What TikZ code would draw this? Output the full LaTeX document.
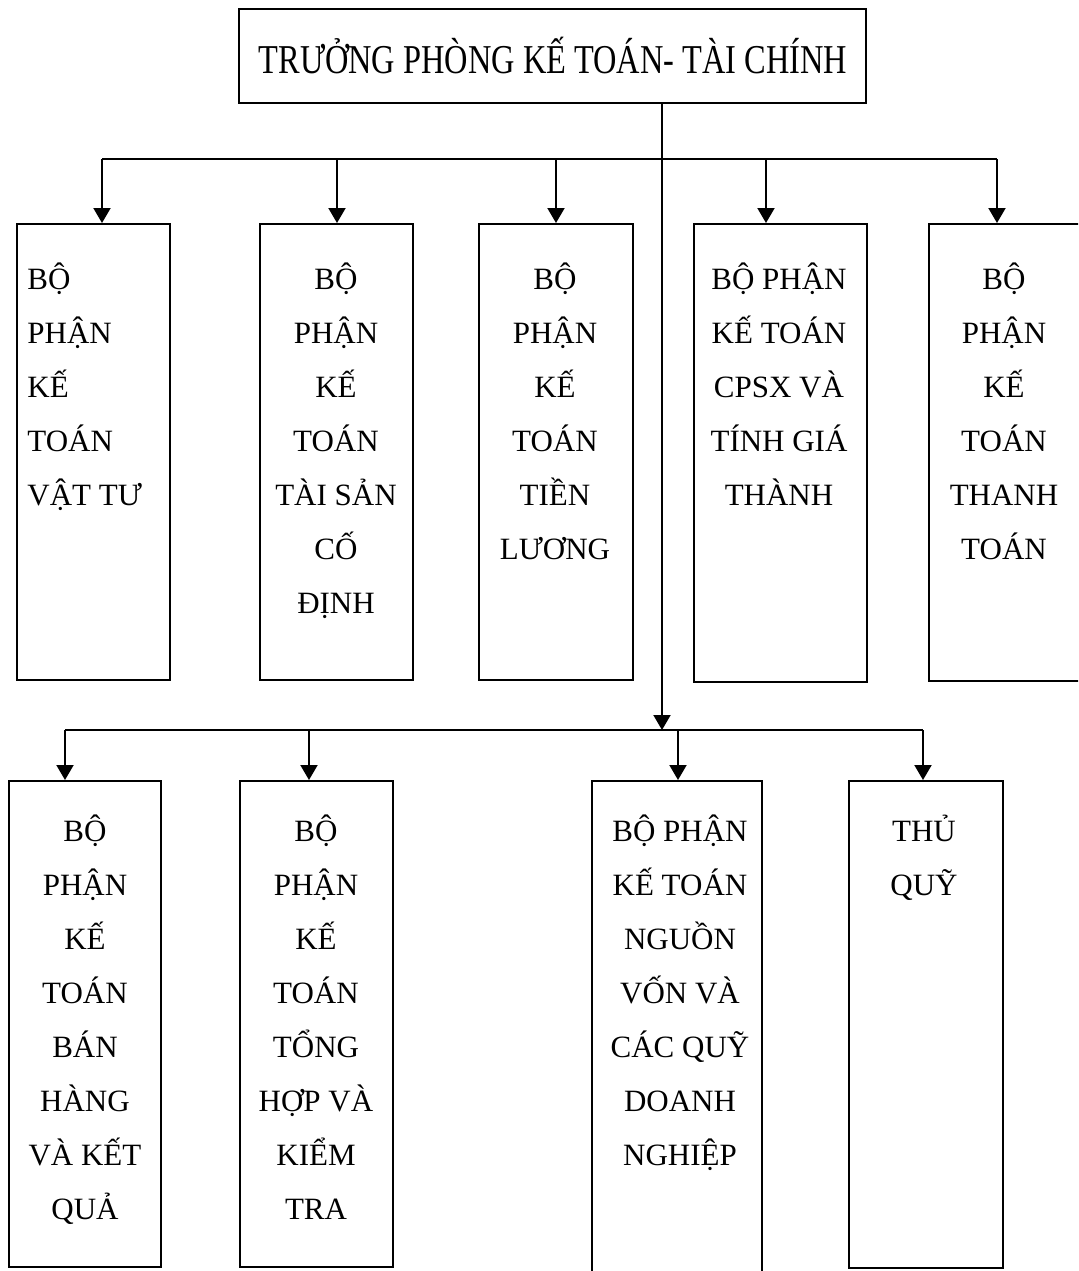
\documentclass[tikz,border=0pt]{standalone}
\usepackage{fontspec}
\usepackage{graphicx}
\setmainfont{Liberation Serif}
\usetikzlibrary{arrows.meta}
\newcommand\firststrut{\rule{0pt}{16pt}}
\tikzset{
  box/.style={draw, line width=0.9pt, inner sep=0pt, anchor=north west},
  txt/.style={inner sep=0pt, font=\fontsize{15.5}{27}\selectfont, align=center, anchor=north},
  bus/.style={line width=0.85pt},
  arr/.style={line width=1pt, -{Triangle[length=7.5pt,width=8.5pt]}}
}
\begin{document}
\begin{tikzpicture}[x=0.5pt,y=-0.5pt]
\useasboundingbox (0,0) rectangle (1078,1271);
\clip (0,0) rectangle (1078,1271);
% top box
\node[box, minimum width=313.5pt, minimum height=47pt] (T) at (238,8) {};
\node[inner sep=0pt, anchor=base] (Tt) at (553,73)
  {\scalebox{0.79}[1]{\fontsize{20.5}{24}\selectfont TRƯỞNG PHÒNG KẾ TOÁN- TÀI CHÍNH}};
% upper boxes
\node[box, minimum width=76.5pt, minimum height=228pt] (b1) at (16,223) {};
\node[box, minimum width=76.5pt, minimum height=228pt] (b2) at (259,223) {};
\node[box, minimum width=77pt, minimum height=228pt] (b3) at (478,223) {};
\node[box, minimum width=86.5pt, minimum height=229pt] (b4) at (693,223) {};
\node[box, minimum width=90pt, minimum height=228.5pt] (b5) at (928,223) {};
% lower boxes
\node[box, minimum width=76pt, minimum height=243pt] (b6) at (8,780) {};
\node[box, minimum width=76.5pt, minimum height=243pt] (b7) at (239,780) {};
\node[box, minimum width=85pt, minimum height=260pt] (b8) at (591,780) {};
\node[box, minimum width=77pt, minimum height=243.5pt] (b9) at (848,780) {};
% texts
\node[txt, align=left, anchor=north west] (t1) at (27,257) {\firststrut BỘ\\PHẬN\\KẾ\\TOÁN\\VẬT TƯ};
\node[txt] (t2) at (336,257) {\firststrut BỘ\\PHẬN\\KẾ\\TOÁN\\TÀI SẢN\\CỐ\\ĐỊNH};
\node[txt] (t3) at (555,257) {\firststrut BỘ\\PHẬN\\KẾ\\TOÁN\\TIỀN\\LƯƠNG};
\node[txt] (t4) at (779,257) {\firststrut BỘ PHẬN\\KẾ TOÁN\\CPSX VÀ\\TÍNH GIÁ\\THÀNH};
\node[txt] (t5) at (1004,257) {\firststrut BỘ\\PHẬN\\KẾ\\TOÁN\\THANH\\TOÁN};
\node[txt] (t6) at (85,809) {\firststrut BỘ\\PHẬN\\KẾ\\TOÁN\\BÁN\\HÀNG\\VÀ KẾT\\QUẢ};
\node[txt] (t7) at (316,809) {\firststrut BỘ\\PHẬN\\KẾ\\TOÁN\\TỔNG\\HỢP VÀ\\KIỂM\\TRA};
\node[txt] (t8) at (680,809) {\firststrut BỘ PHẬN\\KẾ TOÁN\\NGUỒN\\VỐN VÀ\\CÁC QUỸ\\DOANH\\NGHIỆP};
\node[txt] (t9) at (924,809) {\firststrut THỦ\\QUỸ};
% bus coordinates
\coordinate (a1) at (102,159);
\coordinate (a2) at (337,159);
\coordinate (a3) at (556,159);
\coordinate (a4) at (766,159);
\coordinate (a5) at (997,159);
\coordinate (lb) at (662,730);
\coordinate (c1) at (65,730);
\coordinate (c2) at (309,730);
\coordinate (c3) at (678,730);
\coordinate (c4) at (923,730);
% connectors
\draw[bus] (a1) -- (a5);
\draw[arr] (T.south -| lb) -- (lb);
\draw[bus] (c1) -- (c4);
\draw[arr] (a1) -- (a1 |- b1.north);
\draw[arr] (a2) -- (a2 |- b2.north);
\draw[arr] (a3) -- (a3 |- b3.north);
\draw[arr] (a4) -- (a4 |- b4.north);
\draw[arr] (a5) -- (a5 |- b5.north);
\draw[arr] (c1) -- (c1 |- b6.north);
\draw[arr] (c2) -- (c2 |- b7.north);
\draw[arr] (c3) -- (c3 |- b8.north);
\draw[arr] (c4) -- (c4 |- b9.north);
\end{tikzpicture}
\end{document}
